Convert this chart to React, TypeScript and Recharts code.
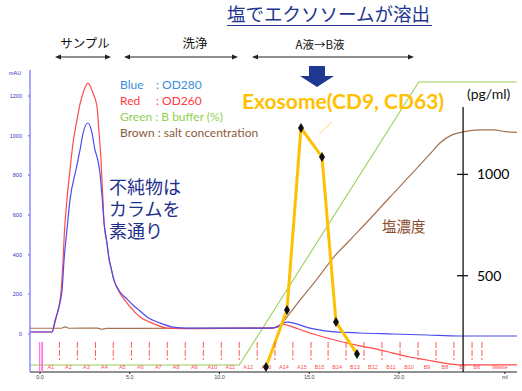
import React from 'react';
import { ComposedChart, Line, Scatter, XAxis, YAxis, ReferenceLine } from 'recharts';

// chromatogram: elution volume (ml) vs absorbance (mAU)
const mlTicks = [0, 5, 10, 15, 20, 25.9];
const mauTicks = [0, 200, 400, 600, 800, 1000, 1200];
const pgTicks = [500, 1000];

const od260 = [
  { ml: -0.56, mau: 10 }, { ml: 0.67, mau: 10 }, { ml: 0.84, mau: 60 }, { ml: 1.0, mau: 116 },
  { ml: 1.17, mau: 212 }, { ml: 1.28, mau: 363 }, { ml: 1.36, mau: 514 }, { ml: 1.5, mau: 676 },
  { ml: 1.67, mau: 827 }, { ml: 1.84, mau: 963 }, { ml: 2.06, mau: 1079 }, { ml: 2.23, mau: 1160 },
  { ml: 2.4, mau: 1215 }, { ml: 2.67, mau: 1265 }, { ml: 2.95, mau: 1215 }, { ml: 3.18, mau: 1144 },
  { ml: 3.29, mau: 1013 }, { ml: 3.4, mau: 877 }, { ml: 3.45, mau: 776 }, { ml: 3.51, mau: 675 },
  { ml: 3.57, mau: 559 }, { ml: 3.73, mau: 459 }, { ml: 3.84, mau: 383 }, { ml: 3.96, mau: 333 },
  { ml: 4.12, mau: 272 }, { ml: 4.35, mau: 222 }, { ml: 4.85, mau: 156 }, { ml: 5.18, mau: 121 },
  { ml: 5.57, mau: 86 }, { ml: 6.13, mau: 60 }, { ml: 6.52, mau: 45 }, { ml: 7.08, mau: 30 },
  { ml: 8.9, mau: 27 }, { ml: 12.8, mau: 30 }, { ml: 13.2, mau: 35 }, { ml: 13.54, mau: 50 },
  { ml: 13.76, mau: 45 }, { ml: 15.04, mau: 5 }, { ml: 15.99, mau: -20 }, { ml: 17.83, mau: -60 },
  { ml: 18.77, mau: -76 }, { ml: 19.67, mau: -96 }, { ml: 20.61, mau: -116 }, { ml: 21.56, mau: -131 },
  { ml: 22.45, mau: -146 }, { ml: 23.4, mau: -156 }, { ml: 26.57, mau: -156 },
];

const od280 = [
  { ml: -0.56, mau: 10 }, { ml: 0.67, mau: 10 }, { ml: 0.84, mau: 70 }, { ml: 1.11, mau: 156 },
  { ml: 1.23, mau: 222 }, { ml: 1.34, mau: 373 }, { ml: 1.5, mau: 524 }, { ml: 1.67, mau: 675 },
  { ml: 2.0, mau: 827 }, { ml: 2.23, mau: 928 }, { ml: 2.4, mau: 1013 }, { ml: 2.67, mau: 1064 },
  { ml: 2.9, mau: 1013 }, { ml: 3.06, mau: 928 }, { ml: 3.18, mau: 892 }, { ml: 3.34, mau: 812 },
  { ml: 3.45, mau: 701 }, { ml: 3.57, mau: 559 }, { ml: 3.73, mau: 459 }, { ml: 3.84, mau: 383 },
  { ml: 3.96, mau: 333 }, { ml: 4.12, mau: 272 }, { ml: 4.46, mau: 212 }, { ml: 4.85, mau: 176 },
  { ml: 5.18, mau: 146 }, { ml: 5.57, mau: 116 }, { ml: 5.96, mau: 86 }, { ml: 6.69, mau: 55 },
  { ml: 7.41, mau: 35 }, { ml: 8.19, mau: 30 }, { ml: 12.8, mau: 30 }, { ml: 13.2, mau: 35 },
  { ml: 13.54, mau: 55 }, { ml: 13.76, mau: 60 }, { ml: 15.04, mau: 30 }, { ml: 15.99, mau: 15 },
  { ml: 17.83, mau: 5 }, { ml: 19.67, mau: 0 }, { ml: 21.56, mau: -5 }, { ml: 23.4, mau: -10 },
  { ml: 26.57, mau: -10 },
];

const bBuffer = [
  { ml: -0.56, pct: 0 }, { ml: 11.1, pct: 0 }, { ml: 21.1, pct: 100 }, { ml: 26.57, pct: 100 },
];

const salt = [
  { ml: -0.56, mau: 29 }, { ml: 1.2, mau: 29 }, { ml: 1.4, mau: 36 }, { ml: 1.6, mau: 29 },
  { ml: 3.2, mau: 30 }, { ml: 3.45, mau: 24 }, { ml: 3.7, mau: 28 }, { ml: 12.9, mau: 30 },
  { ml: 13.37, mau: 45 }, { ml: 13.93, mau: 106 }, { ml: 14.48, mau: 171 }, { ml: 15.04, mau: 232 },
  { ml: 15.6, mau: 297 }, { ml: 16.32, mau: 383 }, { ml: 17.27, mau: 474 }, { ml: 18.38, mau: 580 },
  { ml: 19.5, mau: 691 }, { ml: 20.6, mau: 797 }, { ml: 21.73, mau: 908 }, { ml: 22.28, mau: 963 },
  { ml: 22.95, mau: 1004 }, { ml: 23.57, mau: 1019 }, { ml: 24.5, mau: 1029 }, { ml: 25.24, mau: 1029 },
  { ml: 26.07, mau: 1019 }, { ml: 26.57, mau: 1017 },
];

// exosome ELISA (pg/ml) per fraction
const exosome = [
  { ml: 12.59, pg: 49 }, { ml: 13.76, pg: 331 }, { ml: 14.54, pg: 1229 },
  { ml: 15.71, pg: 1086 }, { ml: 16.49, pg: 271 }, { ml: 17.66, pg: 114 },
];

const fracEdges = [
  0.12, 1.08, 2.08, 3.09, 4.08, 5.09, 6.09, 7.09, 8.09, 9.1, 10.1, 11.1, 12.1,
  13.09, 14.09, 15.1, 16.05, 17.05, 18.05, 19.05, 20.06, 21.06, 22.06, 23.06, 24.07, 24.62,
];
const fracNames = [
  'A1', 'A2', 'A3', 'A4', 'A5', 'A6', 'A7', 'A8', 'A9', 'A10', 'A11', 'A12', 'A13', 'A14', 'A15',
  'B15', 'B14', 'B13', 'B12', 'B11', 'B10', 'B9', 'B8', 'B7', 'B6',
];
const wasteAt = 25.63;
const injectMarks = [-0.03, 0.07, 0.14];

const jp = '"Noto Sans CJK JP", sans-serif';
const lat = 'Lato, sans-serif';
const small = 'Liberation Sans, sans-serif';

const Diamond = (p: any) => (
  <path
    d={`M${p.cx},${p.cy - 5}L${p.cx + 3},${p.cy}L${p.cx},${p.cy + 5}L${p.cx - 3},${p.cy}Z`}
    fill="#111"
  />
);

const FracLabel = (p: any) => (
  <text x={p.cx} y={p.cy} textAnchor="middle" dominantBaseline="middle" fontSize={5.5}
    fontFamily={small} fill="#ff4d4d">
    {p.payload.name}
  </text>
);

// fraction collector tick: short dashed red stroke hanging below the point
const FracTick = (p: any) => (
  <line x1={p.cx} x2={p.cx} y1={p.cy} y2={p.cy + 18} stroke="#ff5555" strokeDasharray="6 2" />
);

// injection mark: pink stroke down to the axis
const InjectTick = (p: any) => (
  <line x1={p.cx} x2={p.cx} y1={p.cy} y2={p.cy + 30} stroke="#ff77dd" />
);

const Arrow2 = ({ x1, x2, y }: { x1: number; x2: number; y: number }) => (
  <g>
    <line x1={x1 + 4} x2={x2 - 4} y1={y} y2={y} stroke="#222" strokeWidth={1} />
    <polygon points={`${x1},${y} ${x1 + 6},${y - 2.5} ${x1 + 6},${y + 2.5}`} fill="#222" />
    <polygon points={`${x2},${y} ${x2 - 6},${y - 2.5} ${x2 - 6},${y + 2.5}`} fill="#222" />
  </g>
);

export default function App() {
  const fracLabels = fracNames
    .map((name, i) => ({ ml: (fracEdges[i] + fracEdges[i + 1]) / 2, y: -171, name }))
    .concat([{ ml: wasteAt, y: -171, name: 'Waste' }]);
  const fracTicks = fracEdges.slice(1).map((e) => ({ ml: e, y: -40 }));
  const injTicks = injectMarks.map((e) => ({ ml: e, y: -40 }));

  return (
    <div style={{ position: 'absolute', left: 0, top: 0, width: 522, height: 391, background: '#fff' }}>
      <ComposedChart width={522} height={391} margin={{ top: 70, right: 5, bottom: 0, left: 0 }}>
        <XAxis dataKey="ml" type="number" domain={[-0.557, 26.574]} allowDataOverflow
          ticks={mlTicks} height={19} tickSize={2} tickMargin={1} interval={0}
          tickFormatter={(v: number) => (v > 25 ? 'ml' : v.toFixed(1))}
          tick={{ fontSize: 5.5, fill: '#444', fontFamily: small }}
          stroke="#222" />
        <YAxis yAxisId="mau" type="number" domain={[-191.6, 1331.3]} allowDataOverflow
          ticks={mauTicks} width={30} tickSize={2} tickMargin={6} interval={0}
          tick={{ fontSize: 5.5, fill: '#3333cc', fontFamily: small }}
          stroke="#8a8aff" strokeWidth={1.5} />
        <YAxis yAxisId="pct" hide type="number" domain={[-2.47, 104.24]} allowDataOverflow />
        <YAxis yAxisId="pg" hide type="number" domain={[24.7, 1515.3]} allowDataOverflow />

        <Scatter yAxisId="mau" data={fracTicks} dataKey="y" shape={FracTick} isAnimationActive={false} />
        <Scatter yAxisId="mau" data={injTicks} dataKey="y" shape={InjectTick} isAnimationActive={false} />

        <Line yAxisId="pct" data={bBuffer} dataKey="pct" type="linear" stroke="#9ad05a"
          strokeWidth={1.1} dot={false} isAnimationActive={false} />
        <Line yAxisId="mau" data={salt} dataKey="mau" type="monotone" stroke="#a5724f"
          strokeWidth={1.2} dot={false} isAnimationActive={false} />
        <Line yAxisId="mau" data={od260} dataKey="mau" type="monotone" stroke="#ff4a4a"
          strokeWidth={1.2} dot={false} isAnimationActive={false} />
        <Line yAxisId="mau" data={od280} dataKey="mau" type="monotone" stroke="#4b4bf0"
          strokeWidth={1.2} dot={false} isAnimationActive={false} />

        <Scatter yAxisId="mau" data={fracLabels} dataKey="y" shape={FracLabel} isAnimationActive={false} />

        {/* exosome axis drawn inside the plot */}
        <ReferenceLine yAxisId="pg" stroke="#111" strokeWidth={1.3}
          segment={[{ x: 23.57, y: 1333 }, { x: 23.57, y: 25 }]} />
        {pgTicks.map((t) => (
          <ReferenceLine key={'p' + t} yAxisId="pg" stroke="#111" strokeWidth={1.3}
            segment={[{ x: 23.23, y: t }, { x: 23.84, y: t }]}
            label={{ value: String(t), position: 'right', offset: 9, fill: '#000', fontSize: 14, fontFamily: lat }} />
        ))}
        <ReferenceLine yAxisId="pg" stroke="#ffd966" strokeWidth={1}
          segment={[{ x: 15.56, y: 1199 }, { x: 16.25, y: 1259 }]} />

        <Line yAxisId="pg" data={exosome} dataKey="pg" type="linear" stroke="#ffc000"
          strokeWidth={3} dot={Diamond} isAnimationActive={false} />
      </ComposedChart>

      <svg width={522} height={391} style={{ position: 'absolute', left: 0, top: 0, pointerEvents: 'none' }}>
        <text x={227} y={21} fontSize={18.5} fontFamily={jp} fill="#22358f">塩でエクソソームが溶出</text>
        <line x1={227} x2={432} y1={25.5} y2={25.5} stroke="#22358f" strokeWidth={1.2} />

        <text x={85} y={48} textAnchor="middle" fontSize={12.5} fontFamily={jp} fill="#111">サンプル</text>
        <text x={195} y={48} textAnchor="middle" fontSize={12.5} fontFamily={jp} fill="#111">洗浄</text>
        <text x={320} y={49} textAnchor="middle" fontSize={11.5} fontFamily={jp} fill="#111">A液→B液</text>
        <Arrow2 x1={55} x2={111} y={57} />
        <Arrow2 x1={124} x2={238} y={57} />
        <Arrow2 x1={252} x2={414} y={57} />

        <polygon points="309,66 325,66 325,76 334,76 317,87 300,76 309,76" fill="#1f3993" />

        <text x={242} y={109} fontSize={21} fontWeight="bold" fontFamily={lat} fill="#ffc000">Exosome(CD9, CD63)</text>
        <text x={467} y={99} fontSize={14} fontFamily={lat} fill="#111">(pg/ml)</text>

        <text x={15} y={75} textAnchor="middle" fontSize={5.5} fontFamily={small} fill="#3333cc">mAU</text>

        <g fontFamily={lat} fontSize={12}>
          <text x={120} y={89} fill="#3c8cd8">Blue</text>
          <text x={156} y={89} fill="#3c8cd8">: OD280</text>
          <text x={120} y={105} fill="#ff3b3b">Red</text>
          <text x={156} y={105} fill="#ff3b3b">: OD260</text>
          <text x={120} y={121} fill="#92d050">Green : B buffer (%)</text>
          <text x={120} y={137} fill="#8b5a3c">Brown : salt concentration</text>
        </g>

        <text x={109} y={194} fontFamily={jp} fontSize={18} fill="#1e2f8c">
          <tspan x={109} y={194}>不純物は</tspan>
          <tspan x={109} y={216}>カラムを</tspan>
          <tspan x={109} y={238}>素通り</tspan>
        </text>
        <text x={382} y={232} fontSize={14.5} fontFamily={jp} fill="#8b4a2a">塩濃度</text>
      </svg>
    </div>
  );
}
